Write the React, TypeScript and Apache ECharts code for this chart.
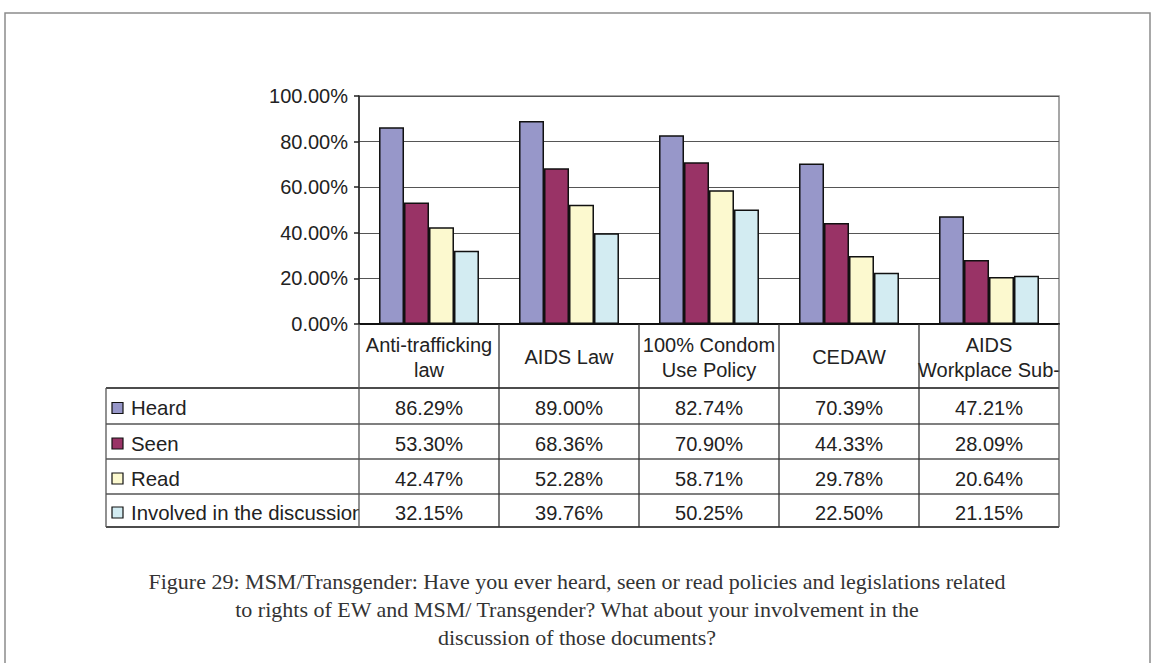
import React, { useEffect, useRef } from "react";
import * as echarts from "echarts";

const categories = [
  "Anti-trafficking\nlaw",
  "AIDS Law",
  "100% Condom\nUse Policy",
  "CEDAW",
  "AIDS\nWorkplace Sub-",
];
const seriesNames = ["Heard", "Seen", "Read", "Involved in the discussion"];
const heard = [0.8629, 0.89, 0.8274, 0.7039, 0.4721];
const seen = [0.533, 0.6836, 0.709, 0.4433, 0.2809];
const read = [0.4247, 0.5228, 0.5871, 0.2978, 0.2064];
const involved = [0.3215, 0.3976, 0.5025, 0.225, 0.2115];
const seriesColors = ["#9797C9", "#993366", "#FCF9CF", "#D3ECF2"];
const captionLines = [
  "Figure 29: MSM/Transgender: Have you ever heard, seen or read policies and legislations related",
  "to rights of EW and MSM/ Transgender? What about your involvement in the",
  "discussion of those documents?",
];

const W = 1151;
const H = 663;
const GRID = { left: 359, right: 1059, top: 96, bottom: 324 };
const TABLE_LEFT = 106;
const ROW_TOPS = [388, 424, 459, 494, 527];
const FONT = "'Liberation Sans', Arial, sans-serif";
const TEXT = "#222";

export default function App() {
  const ref = useRef<HTMLDivElement>(null);
  useEffect(() => {
    if (!ref.current) return;
    const chart = echarts.init(ref.current, undefined, { renderer: "svg" });
    const allSeries = [heard, seen, read, involved];
    const option: any = {
      animation: false,
      backgroundColor: "#ffffff",
      textStyle: { fontFamily: FONT },
      grid: {
        left: GRID.left,
        top: GRID.top,
        width: GRID.right - GRID.left,
        height: GRID.bottom - GRID.top,
        show: true,
        borderColor: "#8a8a8a",
        borderWidth: 1.5,
        containLabel: false,
      },
      xAxis: {
        type: "category",
        data: categories,
        axisLine: { show: true, lineStyle: { color: "#111", width: 2 } },
        axisTick: { show: false },
        axisLabel: {
          interval: 0,
          color: TEXT,
          fontSize: 20,
          fontFamily: FONT,
          lineHeight: 25,
          verticalAlign: "middle",
          margin: 33,
        },
      },
      yAxis: {
        type: "value",
        min: 0,
        max: 1,
        interval: 0.2,
        axisLine: { show: true, lineStyle: { color: "#222", width: 1.5 } },
        axisTick: { show: true, length: 5, lineStyle: { color: "#222", width: 1.5 } },
        axisLabel: {
          color: TEXT,
          fontSize: 20,
          fontFamily: FONT,
          margin: 11,
          formatter: (v: number) => (v * 100).toFixed(2) + "%",
        },
        splitLine: { show: true, lineStyle: { color: "#555", width: 1.2 } },
      },
      series: allSeries.map((d, i) => ({
        name: seriesNames[i],
        type: "bar",
        data: d,
        barGap: "0%",
        barCategoryGap: "28.6%",
        itemStyle: { color: seriesColors[i], borderColor: "#111", borderWidth: 1.5 },
      })),
    };
    chart.setOption(option);

    const centers = categories.map((_, i) => chart.convertToPixel({ xAxisIndex: 0 }, i) as number);
    const step = centers.length > 1 ? centers[1] - centers[0] : 140;
    const bounds = [centers[0] - step / 2, ...centers.map((c) => c + step / 2)];

    const g: any[] = [];
    g.push({
      type: "rect",
      shape: { x: 5, y: 13, width: 1145, height: 700 },
      style: { fill: "none", stroke: "#8c8c8c", lineWidth: 1.5 },
      silent: true,
    });
    // white mask to clip the overflowing row label at the first column border
    g.push({
      type: "rect",
      shape: { x: bounds[0], y: ROW_TOPS[0] + 1, width: 8, height: ROW_TOPS[ROW_TOPS.length - 1] - ROW_TOPS[0] - 2 },
      style: { fill: "#ffffff" },
      z: 9.5,
      silent: true,
    });
    ROW_TOPS.forEach((y, i) => {
      g.push({
        type: "line",
        shape: { x1: TABLE_LEFT, y1: y, x2: bounds[bounds.length - 1], y2: y },
        style: { stroke: i === 0 || i === ROW_TOPS.length - 1 ? "#111" : "#555", lineWidth: 1.3 },
        z: 10,
      });
    });
    g.push({
      type: "line",
      shape: { x1: TABLE_LEFT, y1: ROW_TOPS[0], x2: TABLE_LEFT, y2: ROW_TOPS[ROW_TOPS.length - 1] },
      style: { stroke: "#555", lineWidth: 1.3 },
      z: 10,
    });
    bounds.forEach((x, i) => {
      g.push({
        type: "line",
        shape: { x1: x, y1: GRID.bottom, x2: x, y2: ROW_TOPS[ROW_TOPS.length - 1] },
        style: { stroke: i === 0 || i === bounds.length - 1 ? "#555" : "#333", lineWidth: 1.3 },
        z: 10,
      });
    });
    allSeries.forEach((d, r) => {
      const top = ROW_TOPS[r];
      const bot = ROW_TOPS[r + 1];
      const cy = (top + bot) / 2 + 2;
      g.push({
        type: "rect",
        shape: { x: 112, y: cy - 5.5, width: 11, height: 11 },
        style: { fill: seriesColors[r], stroke: "#111", lineWidth: 1.2 },
        z: 11,
      });
      g.push({
        type: "text",
        x: 131,
        y: cy,
        style: {
          text: seriesNames[r],
          fill: TEXT,
          font: `20.4px ${FONT}`,
          verticalAlign: "middle",
          align: "left",
        },
        z: 9,
      });
      d.forEach((v, c) => {
        g.push({
          type: "text",
          x: centers[c],
          y: cy,
          style: {
            text: (v * 100).toFixed(2) + "%",
            fill: TEXT,
            font: `20px ${FONT}`,
            align: "center",
            verticalAlign: "middle",
          },
          z: 11,
        });
      });
    });
    captionLines.forEach((t, i) => {
      g.push({
        type: "text",
        x: 577,
        y: 581 + i * 28,
        style: {
          text: t,
          fill: "#333",
          font: `22px 'Liberation Serif', 'Times New Roman', serif`,
          align: "center",
          verticalAlign: "middle",
        },
      });
    });
    chart.setOption({ graphic: g });

    return () => chart.dispose();
  }, []);
  return (
    <div
      ref={ref}
      style={{ position: "absolute", left: 0, top: 0, width: W, height: H, background: "#fff" }}
    />
  );
}
